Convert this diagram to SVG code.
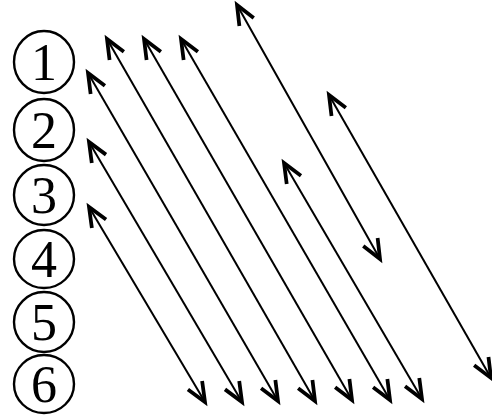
<svg xmlns="http://www.w3.org/2000/svg" width="492" height="415" viewBox="0 0 492 415">
<style>
.c{fill:none;stroke:#000;stroke-width:2.4}
.t{font-family:"Liberation Serif","Times New Roman",serif;font-size:52px;fill:#000;text-anchor:middle}
.a{fill:none;stroke:#000;stroke-width:2;marker-start:url(#h);marker-end:url(#h)}
</style>
<defs>
<marker id="h" markerUnits="userSpaceOnUse" markerWidth="30" markerHeight="30" refX="0" refY="0" viewBox="-16 -10 20 20" orient="auto-start-reverse" overflow="visible">
<path d="M-13,-5.5 L0,0 L-13,5.5" fill="none" stroke="#000" stroke-width="2.5"/>
</marker>
</defs>
<rect width="492" height="415" fill="#fff"/>
<g id="n1"><ellipse class="c" cx="44" cy="62" rx="30" ry="31"/><text class="t" x="44" y="80">1</text></g>
<g id="n2"><ellipse class="c" cx="44" cy="130" rx="30" ry="31"/><text class="t" x="44" y="148">2</text></g>
<g id="n3"><ellipse class="c" cx="44" cy="195" rx="30" ry="30"/><text class="t" x="44" y="213">3</text></g>
<g id="n4"><ellipse class="c" cx="44" cy="259" rx="30" ry="29"/><text class="t" x="44" y="277">4</text></g>
<g id="n5"><ellipse class="c" cx="44" cy="322" rx="30" ry="30"/><text class="t" x="44" y="340">5</text></g>
<g id="n6"><ellipse class="c" cx="44" cy="384" rx="30" ry="29"/><text class="t" x="44" y="402">6</text></g>
<g id="connectors">
<line class="a" x1="89" y1="207" x2="205" y2="402"/>
<line class="a" x1="89" y1="142" x2="242" y2="402"/>
<line class="a" x1="88" y1="73" x2="278" y2="401"/>
<line class="a" x1="107" y1="39" x2="315" y2="401"/>
<line class="a" x1="144" y1="39" x2="352" y2="400"/>
<line class="a" x1="181" y1="39" x2="390" y2="400"/>
<line class="a" x1="284" y1="163" x2="422" y2="399"/>
<line class="a" x1="237" y1="5" x2="380" y2="259"/>
<line class="a" x1="329" y1="95" x2="491" y2="378"/>
</g>
</svg>
